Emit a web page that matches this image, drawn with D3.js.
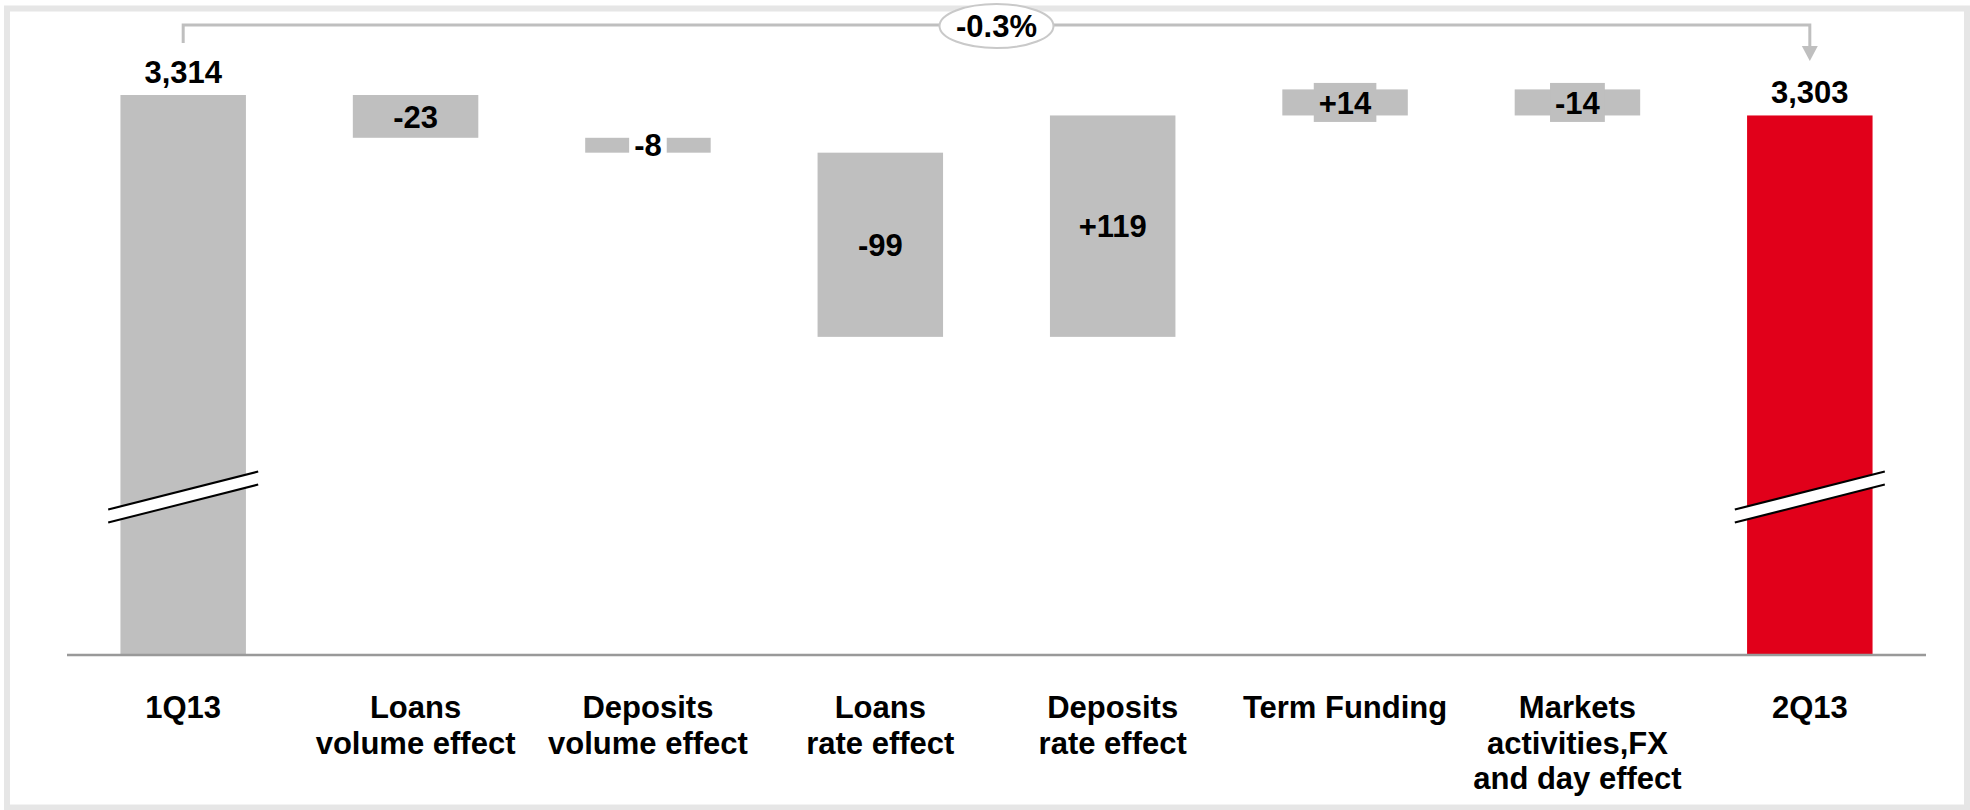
<!DOCTYPE html>
<html>
<head>
<meta charset="utf-8">
<script src="https://cdn.jsdelivr.net/npm/d3@7"></script>
<style>
  html, body { margin: 0; padding: 0; background: #fff; }
  svg { display: block; font-family: "Liberation Sans", Arial, sans-serif; }
</style>
</head>
<body>
<svg id="chart" width="1970" height="810"></svg>
<script>
// Net interest income bridge, 1Q13 -> 2Q13
const categories = [
  "1Q13",
  "Loans\nvolume effect",
  "Deposits\nvolume effect",
  "Loans\nrate effect",
  "Deposits\nrate effect",
  "Term Funding",
  "Markets\nactivities,FX\nand day effect",
  "2Q13"
];
const values = [3314, -23, -8, -99, 119, 14, -14, 3303];
const kinds = ["total", "delta", "delta", "delta", "delta", "delta", "delta", "total"];
const changeLabel = "-0.3%";
const axisFloor = 3013;   // truncated axis: value at the baseline

// styling
const GREY = "#bfbfbf";
const RED = "#e1001a";
const FONT = 31;
const totalFill = ["#bfbfbf", null, null, null, null, null, null, "#e1001a"];
// backdrop behind labels that are taller than their bar
const labelBackdrop = { 2: "#ffffff", 5: GREY, 6: GREY };

const svg = d3.select("#chart");

// outer frame
svg.append("rect")
  .attr("x", 7).attr("y", 8.5).attr("width", 1960).attr("height", 799)
  .attr("fill", "none").attr("stroke", "#e6e6e6").attr("stroke-width", 6);

const x = d3.scaleBand()
  .domain(d3.range(categories.length))
  .range([67, 1926])
  .paddingInner(0.46)
  .paddingOuter(0.23);

const y = d3.scaleLinear()
  .domain([axisFloor, values[0]])
  .range([655, 95]);

// running totals for the floating bars
let running = 0;
const bars = values.map((v, i) => {
  let lo, hi;
  if (kinds[i] === "total") {
    lo = axisFloor; hi = v; running = v;
  } else {
    const start = running;
    running = start + v;
    lo = Math.min(start, running); hi = Math.max(start, running);
  }
  return { i, v, kind: kinds[i], lo, hi };
});

const fmtTotal = d3.format(",");
const fmtDelta = v => (v > 0 ? "+" : "") + v;

// bars
svg.append("g").selectAll("rect")
  .data(bars)
  .join("rect")
  .attr("x", d => x(d.i))
  .attr("width", x.bandwidth())
  .attr("y", d => y(d.hi))
  .attr("height", d => y(d.lo) - y(d.hi))
  .attr("fill", d => d.kind === "total" ? totalFill[d.i] : GREY);

// axis baseline
svg.append("line")
  .attr("x1", x.range()[0]).attr("x2", x.range()[1])
  .attr("y1", y(axisFloor)).attr("y2", y(axisFloor))
  .attr("stroke", "#999").attr("stroke-width", 2.5);

// axis-break marks across the two total bars
const breakY = y(axisFloor) - 0.282 * (y(axisFloor) - y(values[0]));
const breakHalf = 75, breakRise = 19, breakGap = 13;
bars.filter(d => d.kind === "total").forEach(d => {
  const cx = x(d.i) + x.bandwidth() / 2;
  const g = svg.append("g");
  const x0 = cx - breakHalf, x1 = cx + breakHalf;
  const yA0 = breakY + breakRise, yA1 = breakY - breakRise;
  g.append("path")
    .attr("d", `M${x0},${yA0 - breakGap / 2}L${x1},${yA1 - breakGap / 2}L${x1},${yA1 + breakGap / 2}L${x0},${yA0 + breakGap / 2}Z`)
    .attr("fill", "#fff");
  [-breakGap / 2, breakGap / 2].forEach(off => {
    g.append("line")
      .attr("x1", x0).attr("y1", yA0 + off)
      .attr("x2", x1).attr("y2", yA1 + off)
      .attr("stroke", "#000").attr("stroke-width", 2);
  });
});

// value labels
const labels = svg.append("g")
  .attr("font-weight", "bold").attr("font-size", FONT).attr("fill", "#000")
  .attr("text-anchor", "middle");

bars.forEach(d => {
  const cx = x(d.i) + x.bandwidth() / 2;
  if (d.kind === "total") {
    labels.append("text")
      .attr("x", cx).attr("y", y(d.hi) - 12)
      .text(fmtTotal(d.v));
  } else {
    const mid = (y(d.lo) + y(d.hi)) / 2;
    const g = labels.append("g");
    const t = g.append("text")
      .attr("x", cx).attr("y", mid + 0.36 * FONT)
      .text(fmtDelta(d.v));
    if (labelBackdrop[d.i]) {
      const w = t.node().getComputedTextLength() + 10;
      g.insert("rect", "text")
        .attr("x", cx - w / 2).attr("width", w)
        .attr("y", mid - 19.5).attr("height", 39)
        .attr("fill", labelBackdrop[d.i]);
    }
  }
});

// category labels
const cat = svg.append("g")
  .attr("font-weight", "bold").attr("font-size", FONT).attr("fill", "#000")
  .attr("text-anchor", "middle");
categories.forEach((c, i) => {
  const t = cat.append("text")
    .attr("x", x(i) + x.bandwidth() / 2)
    .attr("y", 718);
  c.split("\n").forEach((line, k) => {
    t.append("tspan")
      .attr("x", x(i) + x.bandwidth() / 2)
      .attr("dy", k === 0 ? 0 : 35.5)
      .text(line);
  });
});

// overall change bracket with arrow
const xFirst = x(0) + x.bandwidth() / 2;
const xLast = x(categories.length - 1) + x.bandwidth() / 2;
const bracketY = 25;
svg.append("path")
  .attr("d", `M${xFirst},43V${bracketY}H${xLast}V48`)
  .attr("fill", "none").attr("stroke", GREY).attr("stroke-width", 3);
svg.append("path")
  .attr("d", `M${xLast - 8},46L${xLast + 8},46L${xLast},61Z`)
  .attr("fill", GREY);

const xMid = (xFirst + xLast) / 2;
svg.append("ellipse")
  .attr("cx", xMid).attr("cy", 26).attr("rx", 57).attr("ry", 22)
  .attr("fill", "#fff").attr("stroke", "#c9c9c9").attr("stroke-width", 2);
svg.append("text")
  .attr("x", xMid).attr("y", 37)
  .attr("text-anchor", "middle").attr("font-weight", "bold").attr("font-size", FONT)
  .text(changeLabel);
</script>
</body>
</html>
